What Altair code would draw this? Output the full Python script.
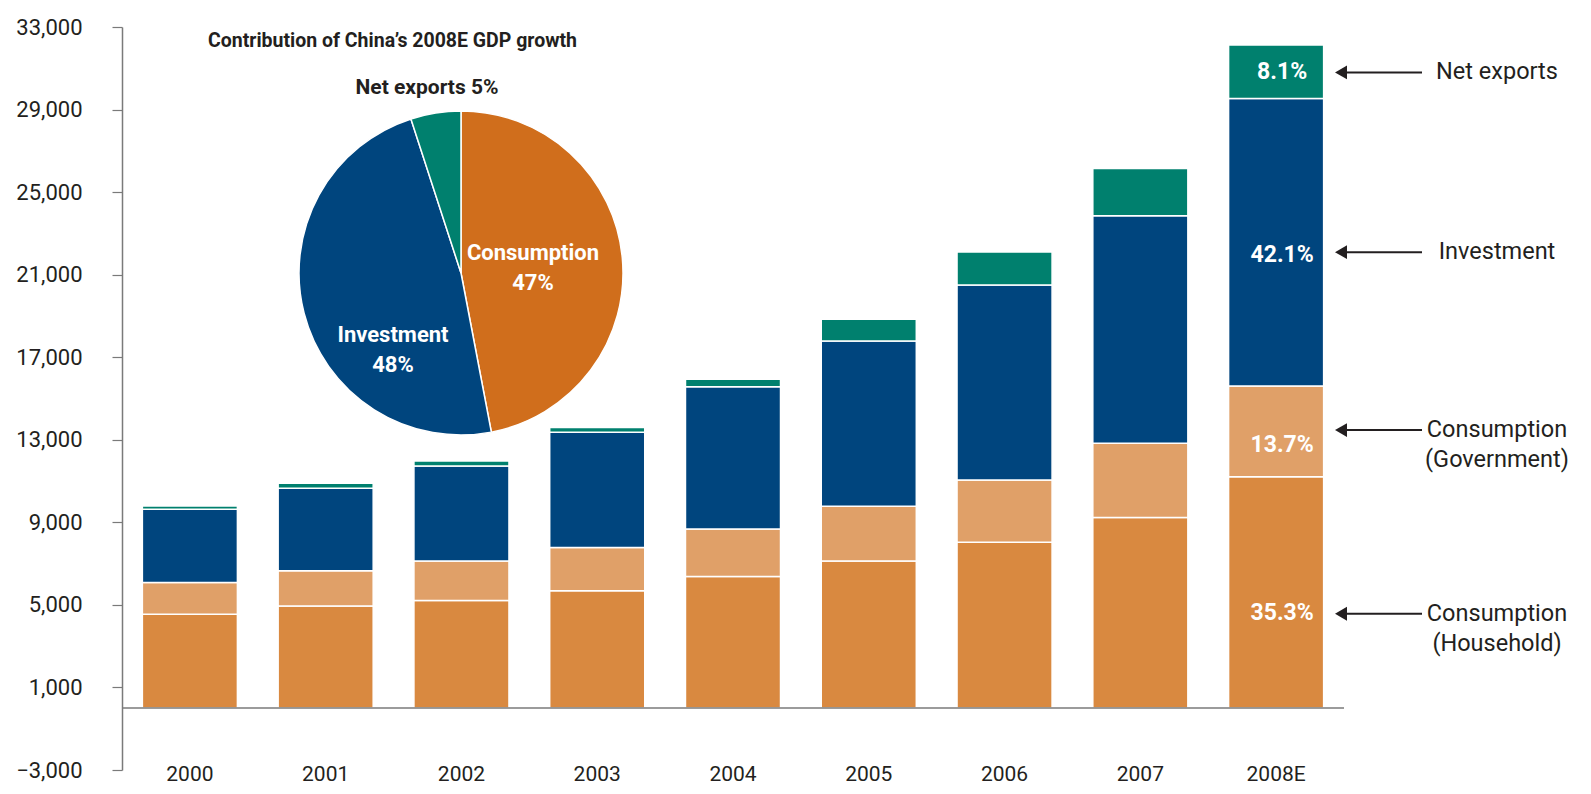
import altair as alt
import pandas as pd

# ---------------- data ----------------
years = ["2000", "2001", "2002", "2003", "2004", "2005", "2006", "2007", "2008E"]
household = [4550, 4950, 5210, 5680, 6370, 7130, 8040, 9230, 11210]
government = [1530, 1710, 1920, 2095, 2310, 2650, 3015, 3600, 4390]
investment = [3550, 3990, 4600, 5585, 6890, 8000, 9440, 11020, 13930]
net_exports = [160, 240, 240, 240, 360, 1065, 1600, 2295, 2595]

series_names = ["Consumption (Household)", "Consumption (Government)", "Investment", "Net exports"]
pct_2008 = ["35.3%", "13.7%", "42.1%", "8.1%"]
ann_line1 = ["Consumption", "Consumption", "Investment", "Net exports"]
ann_line2 = ["(Household)", "(Government)", "", ""]

pie_labels = ["Consumption", "Investment", "Net exports"]
pie_shares = [47, 48, 5]
pie_title = "Contribution of China\u2019s 2008E GDP growth"

y_ticks = [-3000, 1000, 5000, 9000, 13000, 17000, 21000, 25000, 29000, 33000]

# ---------------- styling ----------------
FONT = "Roboto"
DARK = "#231F20"
GRAY = "#7A7A7A"
bar_colors = ["#D98940", "#E0A068", "#00457E", "#00806E"]
pie_colors = ["#D06E1C", "#00457E", "#00806E"]
pct_label_y = [4600, 12750, 21950, 30800]   # label anchors (data units)
arrow_y = [4570, 13470, 22090, 30800]       # arrow anchors (data units)

rows = []
all_series = [household, government, investment, net_exports]
for i, yr in enumerate(years):
    for k, name in enumerate(series_names):
        rows.append({"year": yr, "series": name, "value": all_series[k][i],
                     "order": k, "col": bar_colors[k]})
bar_df = pd.DataFrame(rows)

x_enc = alt.X("year:N", sort=years,
              scale=alt.Scale(paddingInner=0.3, paddingOuter=0.15),
              axis=alt.Axis(title=None, domain=False, ticks=False, labelAngle=0,
                            labelFontSize=21, labelPadding=4, labelColor=DARK,
                            labelBaseline="middle", labelFont=FONT))
y_scale = alt.Scale(domain=[-3000, 33000], nice=False, zero=False)

bars = alt.Chart(bar_df).mark_bar(stroke="white", strokeWidth=1.5).encode(
    x=x_enc,
    y=alt.Y("value:Q", stack="zero", scale=y_scale,
            axis=alt.Axis(title=None, values=y_ticks, format=",.0f", grid=False,
                          tickSize=10, tickColor=GRAY, domainColor=GRAY,
                          domainWidth=1.5, tickWidth=1.2,
                          labelFontSize=22, labelPadding=30, labelColor=DARK,
                          labelFont=FONT)),
    color=alt.Color("col:N", scale=None),
    order=alt.Order("order:Q"),
)

zero_rule = alt.Chart(pd.DataFrame({"v": [0]})).mark_rule(
    color=GRAY, strokeWidth=1.5).encode(y="v:Q")

pct_df = pd.DataFrame({"year": [years[-1]] * 4, "py": pct_label_y, "t": pct_2008})
pct_text = alt.Chart(pct_df).mark_text(
    color="white", fontWeight="bold", fontSize=23, dx=6, font=FONT,
    align="center", baseline="middle").encode(
    x=alt.X("year:N", sort=years), y="py:Q", text="t:N")

ann_df = pd.DataFrame({"ay": arrow_y, "l1": ann_line1, "l2": ann_line2})
arrow_line = alt.Chart(ann_df).mark_rule(color=DARK, strokeWidth=2).encode(
    x=alt.value(1220), x2=alt.value(1300), y="ay:Q")
arrow_head = alt.Chart(ann_df).mark_point(
    shape="triangle-left", filled=True, size=190, color=DARK, opacity=1).encode(
    x=alt.value(1219), y="ay:Q")
ann_t1 = alt.Chart(ann_df).mark_text(
    align="center", baseline="middle", fontSize=23.5, color=DARK, font=FONT).encode(
    x=alt.value(1375), y="ay:Q", text="l1:N")
ann_t2 = alt.Chart(ann_df).mark_text(
    align="center", baseline="middle", fontSize=23.5, color=DARK, font=FONT, dy=30).encode(
    x=alt.value(1375), y="ay:Q", text="l2:N")

pie_df = pd.DataFrame({"label": pie_labels, "share": pie_shares,
                       "col": pie_colors, "o": [0, 1, 2]})
pie = alt.Chart(pie_df).mark_arc(radius=162, stroke="white", strokeWidth=1.5).encode(
    theta=alt.Theta("share:Q", stack=True),
    color=alt.Color("col:N", scale=None),
    order=alt.Order("o:Q"),
    x=alt.value(339), y=alt.value(246),
)

def one_text(txt, x, y, color, size, align="center", line_break=False):
    d = pd.DataFrame({"t": [txt]})
    kw = dict(align=align, baseline="middle", fontSize=size, fontWeight="bold",
              color=color, font=FONT)
    if line_break:
        kw["lineBreak"] = "\n"
        kw["lineHeight"] = 30
    return alt.Chart(d).mark_text(**kw).encode(
        x=alt.value(x), y=alt.value(y), text="t:N")

title_t = one_text(pie_title, 86, 14, DARK, 19.5, align="left")
net_t = one_text(f"{pie_labels[2]} {pie_shares[2]}%", 305, 61, DARK, 21)
cons_t = one_text(f"{pie_labels[0]}\n{pie_shares[0]}%", 411, 226, "white", 22, line_break=True)
inv_t = one_text(f"{pie_labels[1]}\n{pie_shares[1]}%", 271, 308, "white", 22, line_break=True)

chart = alt.layer(
    bars, zero_rule, pct_text, arrow_line, arrow_head, ann_t1, ann_t2,
    pie, title_t, net_t, cons_t, inv_t,
).properties(
    width=1222, height=743,
    padding={"left": 114, "top": 19, "right": 239, "bottom": 16},
    autosize=alt.AutoSizeParams(type="none"),
    background="white",
).configure_view(strokeWidth=0)

chart.save("out.html", embed_options={"renderer": "svg", "actions": False})
